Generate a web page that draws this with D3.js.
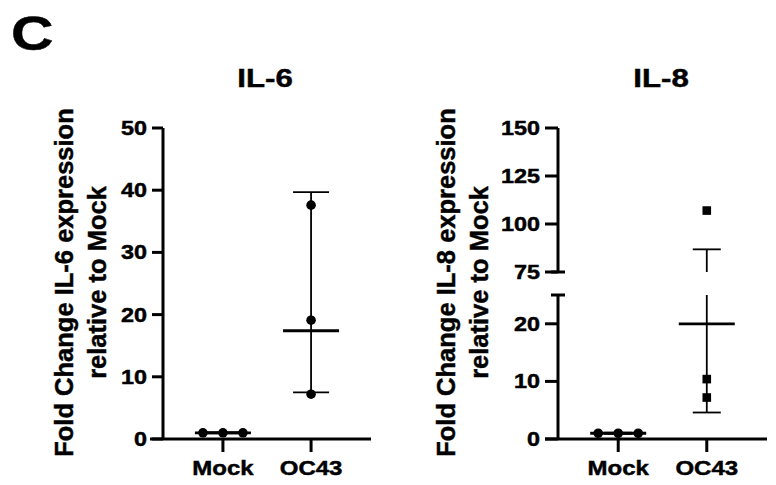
<!DOCTYPE html>
<html>
<head>
<meta charset="utf-8">
<script src="https://cdn.jsdelivr.net/npm/d3@7"></script>
<style>
  body { margin: 0; background: #fff; }
  svg text { font-family: "Liberation Sans", Arial, sans-serif; font-weight: bold; fill: #000; stroke: #000; stroke-width: 0.45px; }
</style>
</head>
<body>
<svg id="chart" width="776" height="485"></svg>
<script>
// groups on the x axis
const groups = ['Mock', 'OC43'];

// IL-6 fold change, individual replicates
const il6Mock = [1.0, 1.0, 1.0];
const il6OC43 = [37.6, 19.1, 7.2];
// centre line and error bar ends (as drawn)
const il6Center = [1.0, 17.4];
const il6Low = [0.9, 7.5];
const il6High = [1.1, 39.7];

// IL-8 fold change, individual replicates
const il8Mock = [1.0, 1.0, 1.0];
const il8OC43 = [107, 10.4, 7.2];
const il8Center = [1.0, 20.0];
const il8Low = [0.9, 4.6];
const il8High = [1.1, 86.8];

// axis ticks
const il6Ticks = [0, 10, 20, 30, 40, 50];
const il8LowTicks = [0, 10, 20];
const il8HighTicks = [75, 100, 125, 150];

const svg = d3.select('#chart');

const stretch = 1.2,
  axisWidth = 3,
  barWidth = 1.8,
  meanWidth = 2.8,
  meanHalf = 28,
  dotR = 4.8,
  squareSize = 8.6,
  spread = 20,
  baseY = 439,
  topY = 128,
  tickFont = 19.5,
  titleFont = 26;

// horizontal text with a slight horizontal stretch
function addText(g, str, x, y, size, anchor) {
  return g.append('text')
    .text(str)
    .attr('transform', `translate(${x},${y}) scale(${stretch},1)`)
    .attr('font-size', size)
    .attr('text-anchor', anchor || 'middle');
}

function line(g, x1, y1, x2, y2, w) {
  g.append('line')
    .attr('x1', x1).attr('y1', y1)
    .attr('x2', x2).attr('y2', y2)
    .attr('stroke', '#000')
    .attr('stroke-width', w);
}

// spread points that sit at nearly the same height
function layoutPoints(values, yOf, cx) {
  const pts = values.map(v => ({ v: v, y: yOf(v) }));
  const sorted = pts.slice().sort((a, b) => a.y - b.y);
  let cluster = [];
  const clusters = [];
  sorted.forEach(p => {
    if (cluster.length && p.y - cluster[cluster.length - 1].y > dotR * 2) {
      clusters.push(cluster);
      cluster = [];
    }
    cluster.push(p);
  });
  if (cluster.length) clusters.push(cluster);
  clusters.forEach(c => {
    c.forEach((p, i) => { p.x = cx + (i - (c.length - 1) / 2) * spread; });
  });
  return pts;
}

function yTitle(g, x, label) {
  const yt = g.append('text')
    .attr('transform', `translate(${x},${(topY + baseY) / 2 - 1}) rotate(-90)`)
    .attr('font-size', 25.5)
    .attr('text-anchor', 'middle');
  yt.append('tspan').attr('x', 0).attr('dy', 0).text(label);
  yt.append('tspan').attr('x', 0).attr('dy', 33).text('relative to Mock');
}

addText(svg, 'C', 11, 50, 49, 'start');

/**
 * IL-6 panel
 */
(function drawIL6() {
  const g = svg.append('g');
  const axisX = 163;
  const x = d3.scalePoint().domain(groups).range([axisX, 371]).padding(0.68);
  const y = d3.scaleLinear().domain([0, 50]).range([baseY, topY]);

  addText(g, 'IL-6', 265, 87, titleFont);

  // y axis
  line(g, axisX, topY, axisX, baseY, axisWidth);
  il6Ticks.forEach(t => {
    line(g, axisX - 11, y(t), axisX, y(t), axisWidth);
    addText(g, t, axisX - 16, y(t) + 7, tickFont, 'end');
  });

  // x axis
  line(g, 150, baseY, 371, baseY, axisWidth);
  groups.forEach(d => {
    line(g, x(d), baseY, x(d), baseY + 13, axisWidth);
    addText(g, d, x(d), 475, 20);
  });

  yTitle(g, 73, 'Fold Change IL-6 expression');

  const series = [il6Mock, il6OC43];
  const capHalf = 18;
  groups.forEach((d, i) => {
    const cx = x(d);
    line(g, cx, y(il6Low[i]), cx, y(il6High[i]), barWidth);
    line(g, cx - capHalf, y(il6Low[i]), cx + capHalf, y(il6Low[i]), barWidth);
    line(g, cx - capHalf, y(il6High[i]), cx + capHalf, y(il6High[i]), barWidth);
    line(g, cx - meanHalf, y(il6Center[i]), cx + meanHalf, y(il6Center[i]), meanWidth);
    layoutPoints(series[i], y, cx).forEach(p => {
      g.append('circle').attr('cx', p.x).attr('cy', p.y).attr('r', dotR).attr('fill', '#000');
    });
  });
})();

/**
 * IL-8 panel, broken y axis
 */
(function drawIL8() {
  const g = svg.append('g');
  const axisX = 558;
  const x = d3.scalePoint().domain(groups).range([axisX, 767]).padding(0.68);
  const yLow = d3.scaleLinear().domain([0, 25]).range([baseY, 295]);
  const yHigh = d3.scaleLinear().domain([75, 150]).range([272, topY]);
  const y = v => (v <= 25 ? yLow(v) : yHigh(v));

  addText(g, 'IL-8', 661, 87, titleFont);

  // y axis, two segments
  line(g, axisX, yHigh(150), axisX, yHigh(75), axisWidth);
  line(g, axisX, yLow(25), axisX, yLow(0), axisWidth);
  il8HighTicks.concat(il8LowTicks).forEach(t => {
    line(g, axisX - 13, y(t), axisX, y(t), axisWidth);
    addText(g, t, axisX - 18, y(t) + 7, tickFont, 'end');
  });
  // break caps
  [yHigh(75), yLow(25)].forEach(py => line(g, axisX - 7, py, axisX + 7, py, axisWidth));

  // x axis
  line(g, 545, baseY, 767, baseY, axisWidth);
  groups.forEach(d => {
    line(g, x(d), baseY, x(d), baseY + 13, axisWidth);
    addText(g, d, x(d), 475, 20);
  });

  yTitle(g, 455, 'Fold Change IL-8 expression');

  const series = [il8Mock, il8OC43];
  const capHalf = 14;
  groups.forEach((d, i) => {
    const cx = x(d);
    const lo = il8Low[i], hi = il8High[i];
    // error bar, skipping the axis gap
    if (hi > 25) {
      line(g, cx, yLow(lo), cx, yLow(25), barWidth);
      line(g, cx, yHigh(75), cx, yHigh(hi), barWidth);
    } else {
      line(g, cx, y(lo), cx, y(hi), barWidth);
    }
    line(g, cx - capHalf, y(lo), cx + capHalf, y(lo), barWidth);
    line(g, cx - capHalf, y(hi), cx + capHalf, y(hi), barWidth);
    line(g, cx - meanHalf, y(il8Center[i]), cx + meanHalf, y(il8Center[i]), meanWidth);
    layoutPoints(series[i], y, cx).forEach(p => {
      if (i === 0) {
        g.append('circle').attr('cx', p.x).attr('cy', p.y).attr('r', dotR).attr('fill', '#000');
      } else {
        g.append('rect')
          .attr('x', p.x - squareSize / 2).attr('y', p.y - squareSize / 2)
          .attr('width', squareSize).attr('height', squareSize)
          .attr('fill', '#000');
      }
    });
  });
})();
</script>
</body>
</html>
